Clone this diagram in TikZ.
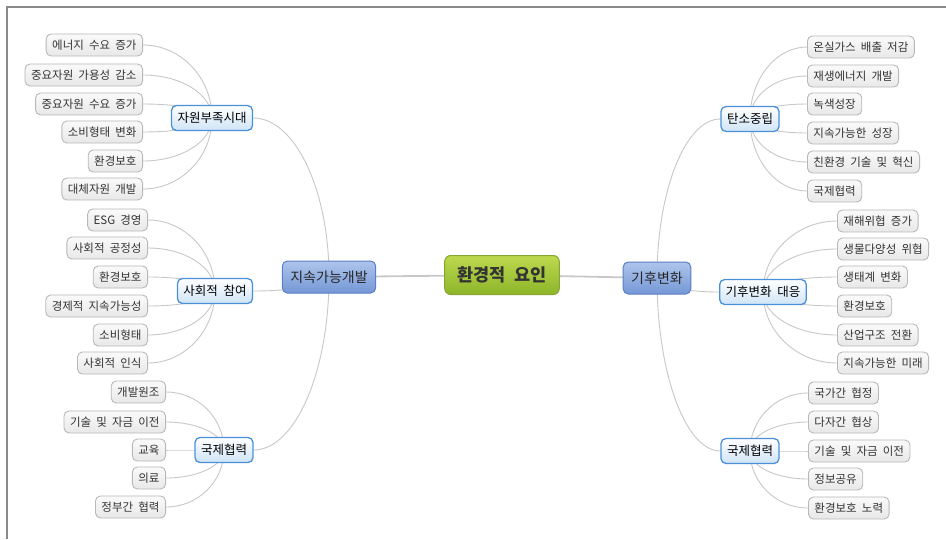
\documentclass[tikz,border=0pt]{standalone}
\usepackage{fontspec}
\setmainfont[WordSpace=2]{Noto Sans CJK KR}
\usetikzlibrary{calc,backgrounds}

\definecolor{leafborder}{HTML}{B8B8B8}
\definecolor{leaftop}{HTML}{FAFAFA}
\definecolor{leafbot}{HTML}{E8E8E8}
\definecolor{leaftext}{HTML}{333333}
\definecolor{subborder}{HTML}{4A90D9}
\definecolor{subbot}{HTML}{CFE4F7}
\definecolor{mainborder}{HTML}{5B7FC2}
\definecolor{maintop}{HTML}{AEC5EC}
\definecolor{mainbot}{HTML}{7497D6}
\definecolor{rootborder}{HTML}{86A630}
\definecolor{roottop}{HTML}{BDD94F}
\definecolor{rootbot}{HTML}{8DB52A}
\definecolor{linkgray}{HTML}{C8C8C8}
\definecolor{framegray}{HTML}{8A8A8A}

\tikzset{
  base/.style={rounded corners=5pt, align=center, inner ysep=0pt},
  leaf/.style={base, draw=leafborder, line width=0.9pt, top color=leaftop, bottom color=leafbot,
    font=\fontsize{11.5}{11.5}\selectfont, text=leaftext, minimum height=22pt, inner xsep=6pt},
  sub/.style={base, draw=subborder, line width=1.3pt, top color=white, bottom color=subbot,
    font=\fontsize{12.5}{12.5}\selectfont, text=black, minimum height=25pt, inner xsep=6pt},
  mainnode/.style={base, draw=mainborder, line width=1pt, top color=maintop, bottom color=mainbot,
    font=\fontsize{14}{14}\selectfont, text=black!85, minimum height=32pt, inner xsep=8pt},
  rootnode/.style={base, rounded corners=6pt, draw=rootborder, line width=1pt, top color=roottop, bottom color=rootbot,
    font=\fontsize{17.5}{17.5}\selectfont\bfseries, text=black!80, minimum height=39pt, inner xsep=13pt},
  link/.style={draw=linkgray, line width=0.9pt},
  thicklink/.style={draw=linkgray, line width=1.8pt},
  frameline/.style={draw=framegray, line width=2.5pt}
}

% curved branch: leaves the parent vertically, reaches the child horizontally
\newcommand\branchL[2]{\draw[link] (#1.center) .. controls ($(#1.center)!0.55!(#1.center |- #2.east)$) and ($(#2.east)!0.55!(#1.center |- #2.east)$) .. (#2.east);}
\newcommand\branchR[2]{\draw[link] (#1.center) .. controls ($(#1.center)!0.55!(#1.center |- #2.west)$) and ($(#2.west)!0.55!(#1.center |- #2.west)$) .. (#2.west);}

\begin{document}
\begin{tikzpicture}[x=1pt,y=-1pt]
\useasboundingbox (0,0) rectangle (946,539);

% centre and first level
\node[rootnode] (root) at (502,275) {환경적 요인};
\node[mainnode] (sd) at (329,277) {지속가능개발};
\node[mainnode] (cc) at (657,278) {기후변화};

% second level
\node[sub] (res) at (212,118) {자원부족시대};
\node[sub] (soc) at (215,291) {사회적 참여};
\node[sub] (intl) at (224,450) {국제협력};
\node[sub] (cn) at (750,119) {탄소중립};
\node[sub] (ccr) at (763,292) {기후변화 대응};
\node[sub] (intr) at (750,451) {국제협력};

% leaves: 자원부족시대
\node[leaf, anchor=east] (a1) at (143,45) {에너지 수요 증가};
\node[leaf, anchor=east] (a2) at (143,75) {중요자원 가용성 감소};
\node[leaf, anchor=east] (a3) at (143,104) {중요자원 수요 증가};
\node[leaf, anchor=east] (a4) at (143,132) {소비형태 변화};
\node[leaf, anchor=east] (a5) at (143,161) {환경보호};
\node[leaf, anchor=east] (a6) at (143,189) {대체자원 개발};

% leaves: 사회적 참여
\node[leaf, anchor=east] (b1) at (148,220) {ESG 경영};
\node[leaf, anchor=east] (b2) at (148,248) {사회적 공정성};
\node[leaf, anchor=east] (b3) at (148,277) {환경보호};
\node[leaf, anchor=east] (b4) at (148,306) {경제적 지속가능성};
\node[leaf, anchor=east] (b5) at (148,335) {소비형태};
\node[leaf, anchor=east] (b6) at (148,363) {사회적 인식};

% leaves: 국제협력 (left)
\node[leaf, anchor=east] (c1) at (166,392) {개발원조};
\node[leaf, anchor=east] (c2) at (166,422) {기술 및 자금 이전};
\node[leaf, anchor=east] (c3) at (166,450) {교육};
\node[leaf, anchor=east] (c4) at (166,478) {의료};
\node[leaf, anchor=east] (c5) at (166,507) {정부간 협력};

% leaves: 탄소중립
\node[leaf, anchor=west] (d1) at (807,47) {온실가스 배출 저감};
\node[leaf, anchor=west] (d2) at (807,76) {재생에너지 개발};
\node[leaf, anchor=west] (d3) at (807,104) {녹색성장};
\node[leaf, anchor=west] (d4) at (807,133) {지속가능한 성장};
\node[leaf, anchor=west] (d5) at (807,162) {친환경 기술 및 혁신};
\node[leaf, anchor=west] (d6) at (807,191) {국제협력};

% leaves: 기후변화 대응
\node[leaf, anchor=west] (e1) at (837,221) {재해위협 증가};
\node[leaf, anchor=west] (e2) at (837,249) {생물다양성 위협};
\node[leaf, anchor=west] (e3) at (837,277) {생태계 변화};
\node[leaf, anchor=west] (e4) at (837,306) {환경보호};
\node[leaf, anchor=west] (e5) at (837,335) {산업구조 전환};
\node[leaf, anchor=west] (e6) at (837,363) {지속가능한 미래};

% leaves: 국제협력 (right)
\node[leaf, anchor=west] (f1) at (808,393) {국가간 협정};
\node[leaf, anchor=west] (f2) at (808,422) {다자간 협상};
\node[leaf, anchor=west] (f3) at (808,451) {기술 및 자금 이전};
\node[leaf, anchor=west] (f4) at (808,479) {정보공유};
\node[leaf, anchor=west] (f5) at (808,508) {환경보호 노력};

\begin{pgfonlayer}{background}
  \fill[white] (0,0) rectangle (946,539);
  \draw[frameline] (7,539) -- (7,7) -- (946,7);
  \draw[thicklink] (root.center) -- (sd.center);
  \draw[thicklink] (root.center) -- (cc.center);
  \branchL{sd}{res} \branchL{sd}{soc} \branchL{sd}{intl}
  \branchR{cc}{cn} \branchR{cc}{ccr} \branchR{cc}{intr}
  \foreach \n in {a1,a2,a3,a4,a5,a6} {\branchL{res}{\n}}
  \foreach \n in {b1,b2,b3,b4,b5,b6} {\branchL{soc}{\n}}
  \foreach \n in {c1,c2,c3,c4,c5} {\branchL{intl}{\n}}
  \foreach \n in {d1,d2,d3,d4,d5,d6} {\branchR{cn}{\n}}
  \foreach \n in {e1,e2,e3,e4,e5,e6} {\branchR{ccr}{\n}}
  \foreach \n in {f1,f2,f3,f4,f5} {\branchR{intr}{\n}}
\end{pgfonlayer}
\end{tikzpicture}
\end{document}
